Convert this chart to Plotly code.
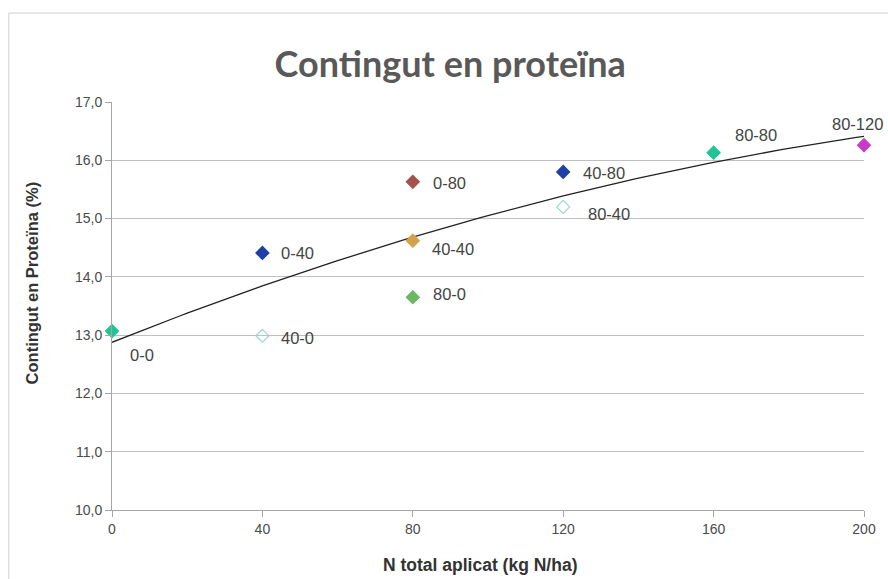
import numpy as np
import plotly.graph_objects as go

# Data
labels = ["0-0", "0-40", "40-0", "0-80", "40-40", "80-0", "40-80", "80-40", "80-80", "80-120"]
n_total = [0, 40, 40, 80, 80, 80, 120, 120, 160, 200]
protein = [13.07, 14.41, 12.99, 15.63, 14.62, 13.65, 15.80, 15.20, 16.13, 16.26]
colors = ["#1fc494", "#1f3ea6", "#9fd9cc", "#a3524e", "#d4a24e", "#6cb861", "#1f3ea6", "#9fd9cc", "#1fc494", "#c83ac8"]
symbols = ["diamond", "diamond", "diamond-open", "diamond", "diamond", "diamond", "diamond", "diamond-open", "diamond", "diamond"]
label_dx = [16, 17, 17, 18, 17, 18, 18, 23, 19, -34]
label_dy = [-24, 0, -2, -1, -8, 3, -1, -7, 18, 21]

y_ticks = [10, 11, 12, 13, 14, 15, 16, 17]
y_ticktext = ["10,0", "11,0", "12,0", "13,0", "14,0", "15,0", "16,0", "17,0"]
x_ticks = [0, 40, 80, 120, 160, 200]

# polynomial (order 2) trend line fitted to the data
coef = np.polyfit(n_total, protein, 2)
xt = np.linspace(0, 200, 101)
yt = np.polyval(coef, xt)

fig = go.Figure()
fig.add_trace(go.Scatter(x=xt, y=yt, mode="lines",
                         line=dict(color="#222222", width=1.3),
                         hoverinfo="skip", showlegend=False))
fig.add_trace(go.Scatter(
    x=n_total, y=protein, mode="markers",
    marker=dict(symbol=symbols, color=colors, size=10,
                line=dict(color=colors, width=1.2)),
    cliponaxis=False, showlegend=False))

for lab, x, y, dx, dy in zip(labels, n_total, protein, label_dx, label_dy):
    fig.add_annotation(x=x, y=y, text=lab, showarrow=False,
                       xanchor="left", yanchor="middle",
                       xshift=dx, yshift=dy,
                       font=dict(family="Liberation Sans, Arial", size=16.5, color="#444444"))

# axis titles placed as annotations to match the original positions
fig.add_annotation(xref="paper", yref="paper", x=-0.106, y=0.556,
                   text="<b>Contingut en Proteïna (%)</b>", textangle=-90,
                   showarrow=False, xanchor="center", yanchor="middle",
                   font=dict(family="Liberation Sans", size=16.5, color="#333333"))
fig.add_annotation(xref="paper", yref="paper", x=0.49, y=-0.135,
                   text="<b>N total aplicat (kg N/ha)</b>",
                   showarrow=False, xanchor="center", yanchor="middle",
                   font=dict(family="Liberation Sans", size=17.5, color="#333333"))

fig.update_layout(
    width=888, height=579,
    margin=dict(l=112, r=12, t=102, b=69),
    paper_bgcolor="white", plot_bgcolor="white",
    title=dict(text="<b>Contingut en proteïna</b>", x=0.507, xanchor="center",
               y=0.888, yanchor="middle",
               font=dict(family="Lato, Open Sans", size=36, color="#595959")),
    xaxis=dict(range=[0, 200], tickvals=x_ticks, ticktext=[str(v) for v in x_ticks],
               showgrid=False, zeroline=False,
               showline=True, linecolor="#a6a6a6", linewidth=1,
               ticks="outside", ticklen=6, tickcolor="#a6a6a6",
               tickfont=dict(family="Liberation Sans", size=14, color="#4a4a4a")),
    yaxis=dict(range=[10, 17], tickvals=y_ticks, ticktext=y_ticktext,
               showgrid=True, gridcolor="#bfbfbf", gridwidth=1, zeroline=False,
               showline=True, linecolor="#a6a6a6", linewidth=1,
               ticks="outside", ticklen=6, tickcolor="#a6a6a6",
               tickfont=dict(family="Liberation Sans", size=14, color="#4a4a4a")),
)

# outer chart frame
fig.add_shape(type="rect", xref="paper", yref="paper",
              x0=-0.1372, x1=1.05, y0=-0.2, y1=1.218,
              line=dict(color="#d0d0d0", width=1), layer="below")

# remove the default page margin so the 888x579 figure fills the window exactly
fig.write_html("out.html", config={"displayModeBar": False},
               post_script="document.body.style.margin='0';document.body.style.overflow='hidden';")
